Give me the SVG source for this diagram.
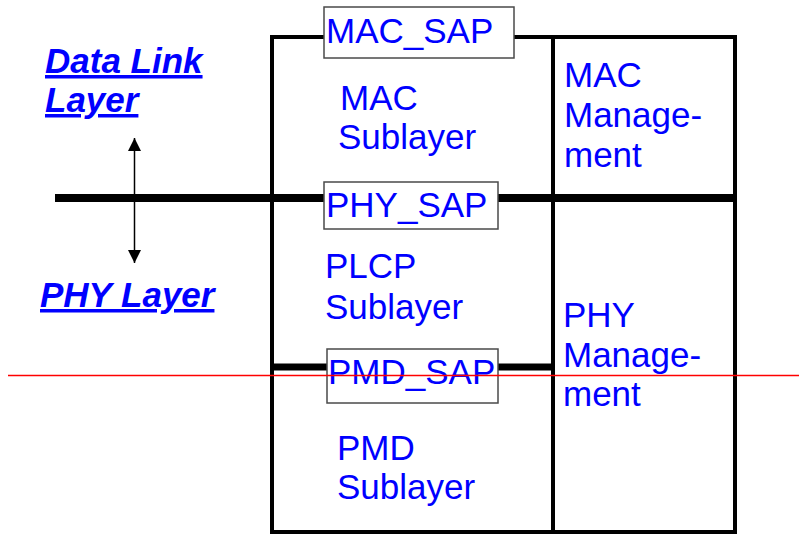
<svg xmlns="http://www.w3.org/2000/svg" width="799" height="535" viewBox="0 0 799 535">
<defs>
<style>
.t{font-family:"Liberation Sans",Arial,sans-serif;font-size:35px;fill:#0000ff}
.h{font-family:"Liberation Sans",Arial,sans-serif;font-size:35px;font-weight:bold;font-style:italic;fill:#0000ff;text-decoration:underline}
.frame{fill:none;stroke:#000;stroke-width:4}
.sap{fill:#fff;stroke:#4a4a4a;stroke-width:1.5}
</style>
<marker id="ah" viewBox="0 0 13 13" refX="13" refY="6.5" markerWidth="13" markerHeight="13" markerUnits="userSpaceOnUse" orient="auto-start-reverse">
<path d="M0,0 L13,6.5 L0,13 Z" fill="#000"/>
</marker>
</defs>
<rect width="799" height="535" fill="#fff"/>
<g id="mac-sublayer">
<rect class="frame" x="272" y="37" width="281" height="161"/>
<text class="t" x="340" y="110">MAC</text>
<text class="t" x="338" y="149">Sublayer</text>
</g>
<g id="plcp-sublayer">
<rect class="frame" x="272" y="198" width="281" height="169"/>
<text class="t" x="325" y="278">PLCP</text>
<text class="t" x="325" y="319">Sublayer</text>
</g>
<g id="pmd-sublayer">
<rect class="frame" x="272" y="367" width="281" height="165"/>
<text class="t" x="337" y="460">PMD</text>
<text class="t" x="337" y="499">Sublayer</text>
</g>
<g id="mac-management">
<rect class="frame" x="553" y="37" width="182" height="161"/>
<text class="t" x="564" y="87">MAC</text>
<text class="t" x="564" y="127">Manage-</text>
<text class="t" x="564" y="167">ment</text>
</g>
<g id="phy-management">
<rect class="frame" x="553" y="198" width="182" height="334"/>
<text class="t" x="563" y="327">PHY</text>
<text class="t" x="563" y="367">Manage-</text>
<text class="t" x="563" y="406">ment</text>
</g>
<g id="connectors">
<line x1="55" y1="198" x2="737" y2="198" stroke="#000" stroke-width="8"/>
<line x1="272" y1="367" x2="553" y2="367" stroke="#000" stroke-width="7"/>
<line x1="134.5" y1="138" x2="134.5" y2="263" stroke="#000" stroke-width="1.5" marker-start="url(#ah)" marker-end="url(#ah)"/>
</g>
<g id="mac-sap">
<rect class="sap" x="324" y="7" width="190" height="51"/>
<text class="t" x="326" y="43">MAC_SAP</text>
</g>
<g id="phy-sap">
<rect class="sap" x="324" y="182" width="174" height="47"/>
<text class="t" x="326" y="217">PHY_SAP</text>
</g>
<g id="pmd-sap">
<rect class="sap" x="327" y="349" width="171" height="54"/>
<text class="t" x="328" y="384">PMD_SAP</text>
</g>
<g id="data-link-layer">
<text class="h" x="45" y="73">Data Link</text>
<text class="h" x="45" y="112">Layer</text>
</g>
<g id="phy-layer">
<text class="h" x="40" y="307">PHY Layer</text>
</g>
<line x1="8" y1="375.5" x2="799" y2="375.5" stroke="#ff0000" stroke-width="1.5"/>
</svg>
